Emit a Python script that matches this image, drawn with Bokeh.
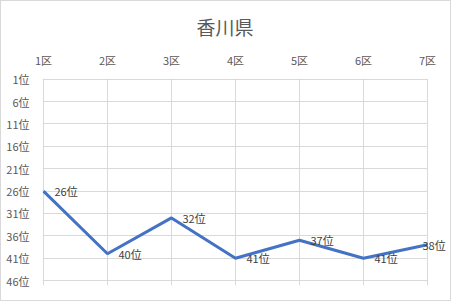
from bokeh.plotting import figure
from bokeh.models import Range1d, FixedTicker, ColumnDataSource, Label, BoxAnnotation
from bokeh.embed import file_html
from bokeh.resources import INLINE

districts = ["1区", "2区", "3区", "4区", "5区", "6区", "7区"]
ranks = [26, 40, 32, 41, 37, 41, 38]
rank_ticks = [1, 6, 11, 16, 21, 26, 31, 36, 41, 46]

FONT = "Noto Sans CJK JP"
xs = list(range(1, len(districts) + 1))
labels = [f"{r}位" for r in ranks]

# frame extends to the right past the last category so the last data label is not clipped
x_start = 0.985
x_end = x_start + 404 / 64

p = figure(width=450, height=299, output_backend="svg", toolbar_location=None,
           x_axis_location="above",
           x_range=Range1d(x_start, x_end), y_range=Range1d(47.1, 0.85),
           frame_width=404, frame_height=207,
           min_border_left=41, min_border_right=4, min_border_top=77, min_border_bottom=15,
           title="香川県")
p.styles = {"border": "1px solid #d9d9d9"}
p.outline_line_color = None
p.background_fill_color = "white"
p.border_fill_color = "white"

p.title.align = "left"
p.title.offset = 154
p.title.standoff = 18
p.title.text_font = FONT
p.title.text_font_size = "19px"
p.title.text_font_style = "normal"
p.title.text_color = "#595959"

p.xaxis.ticker = FixedTicker(ticks=xs)
p.xaxis.major_label_overrides = {x: d for x, d in zip(xs, districts)}
p.yaxis.ticker = FixedTicker(ticks=rank_ticks)
p.yaxis.major_label_overrides = {t: f"{t}位" for t in rank_ticks}
for ax in (p.xaxis[0], p.yaxis[0]):
    ax.axis_line_color = None
    ax.major_tick_line_color = None
    ax.minor_tick_line_color = None
    ax.major_label_text_font = FONT
    ax.major_label_text_font_size = "11px"
    ax.major_label_text_color = "#595959"
p.yaxis.major_label_standoff = 7
p.xaxis.major_label_standoff = 5

xgrid = p.xgrid[0]
ygrid = p.ygrid[0]
xgrid.ticker = FixedTicker(ticks=xs)
ygrid.ticker = FixedTicker(ticks=rank_ticks)
xgrid.grid_line_color = "#d9d9d9"
ygrid.grid_line_color = "#d9d9d9"

# mask horizontal grid lines to the right of the last category
mask = BoxAnnotation(left=xs[-1], fill_color="white", fill_alpha=1.0,
                     line_color=None, level="underlay")
p.center = [ygrid, mask, xgrid]

src = ColumnDataSource(dict(x=xs, y=ranks, label=labels))
p.line("x", "y", source=src, line_color="#4472C4", line_width=3)

for i, (x, y, t) in enumerate(zip(xs, ranks, labels)):
    off = -5 if i == len(xs) - 1 else 11
    p.add_layout(Label(x=x, y=y, text=t, x_offset=off,
                       text_baseline="middle", text_align="left",
                       text_font=FONT, text_font_size="11px", text_color="#404040"))

open("out.html", "w").write(file_html(p, INLINE))
